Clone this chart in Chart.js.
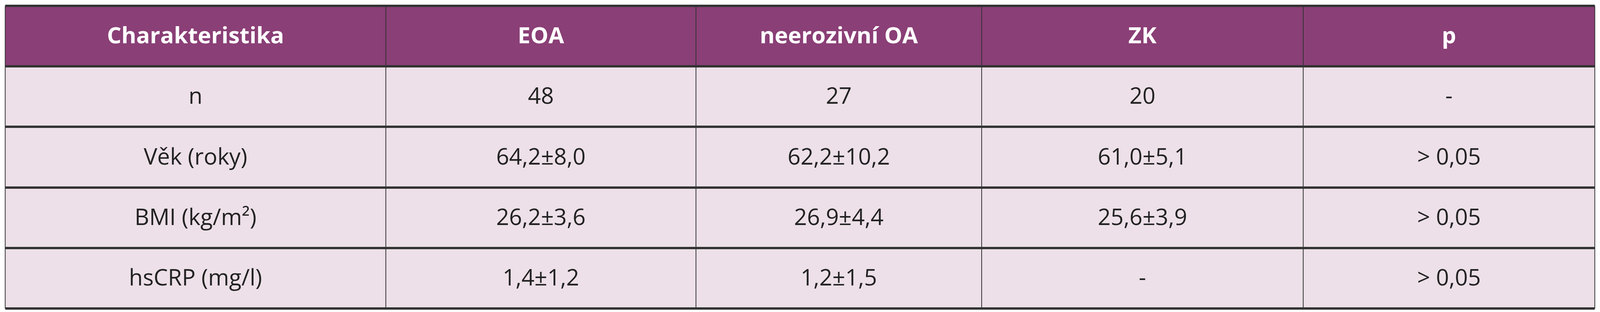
<!DOCTYPE html>
<html><head><meta charset="utf-8">
<script src="https://cdn.jsdelivr.net/npm/chart.js@4/dist/chart.umd.min.js"></script>
<style>html,body{margin:0;padding:0;background:#fff;overflow:hidden}#w{width:100vw;height:100vh}</style>
</head><body><div id="w"><canvas id="c"></canvas></div>
<script>
const headers = ["Charakteristika","EOA","neerozivní OA","ZK","p"];
const rowLabels = ["n","Věk (roky)","BMI (kg/m²)","hsCRP (mg/l)"];
const eoa = ["48","64,2±8,0","26,2±3,6","1,4±1,2"];
const neeroz = ["27","62,2±10,2","26,9±4,4","1,2±1,5"];
const zk = ["20","61,0±5,1","25,6±3,9","-"];
const pval = ["-","> 0,05","> 0,05","> 0,05"];
const colFrac = [16,1183,2134,3010,3996,4890].map(v=>v/4906);
const rowFrac = [15,170,325,481,636,791].map(v=>v/800);

const tablePlugin = {
  id:'table',
  afterDraw(chart){
    const ctx = chart.ctx, W=chart.width, H=chart.height;
    const cx=colFrac.map(f=>f*W), ry=rowFrac.map(f=>f*H);
    const fs=Math.round(H*0.072);
    const cols=[rowLabels,eoa,neeroz,zk,pval];
    ctx.save();
    ctx.fillStyle='#8a3f76';
    ctx.fillRect(cx[0],ry[0],cx[5]-cx[0],ry[1]-ry[0]);
    ctx.fillStyle='#ede0e8';
    ctx.fillRect(cx[0],ry[1],cx[5]-cx[0],ry[5]-ry[1]);
    ctx.strokeStyle='#333';
    ctx.lineWidth=2;
    for(let i=0;i<cx.length;i++){ctx.beginPath();ctx.moveTo(cx[i],ry[0]);ctx.lineTo(cx[i],ry[5]);ctx.stroke();}
    ctx.lineWidth=6;
    for(let j=0;j<ry.length;j++){ctx.beginPath();ctx.moveTo(cx[0],ry[j]);ctx.lineTo(cx[5],ry[j]);ctx.stroke();}
    ctx.textAlign='center';ctx.textBaseline='middle';
    ctx.fillStyle='#fff';ctx.font='bold '+fs+'px "Open Sans"';
    headers.forEach((h,i)=>ctx.fillText(h,(cx[i]+cx[i+1])/2,(ry[0]+ry[1])/2+2));
    ctx.fillStyle='#222';ctx.font=fs+'px "Open Sans"';
    cols.forEach((col,i)=>col.forEach((v,j)=>ctx.fillText(v,(cx[i]+cx[i+1])/2,(ry[j+1]+ry[j+2])/2+2)));
    ctx.restore();
  }
};
new Chart(document.getElementById('c'),{
  type:'bar',
  data:{labels:rowLabels,datasets:[{data:[],label:'t'}]},
  options:{responsive:true,maintainAspectRatio:false,animation:false,
    plugins:{legend:{display:false},tooltip:{enabled:false}},
    scales:{x:{display:false},y:{display:false}}},
  plugins:[tablePlugin]
});
</script></body></html>
